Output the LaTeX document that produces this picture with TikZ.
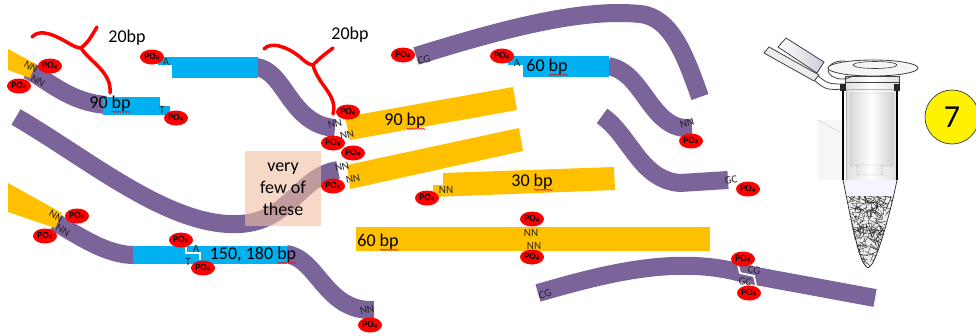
\documentclass[tikz,border=0pt]{standalone}
\usepackage{fontspec}
\setmainfont{Carlito}
\usetikzlibrary{shapes.geometric,decorations.pathmorphing}
\definecolor{strand}{RGB}{122,100,154}
\definecolor{oligo}{RGB}{0,176,240}
\definecolor{insert}{RGB}{255,192,0}
\definecolor{peach}{RGB}{241,190,160}
\newcommand\POfour{PO\textsubscript{4}}
\begin{document}
\begin{tikzpicture}[x=1pt,y=-1pt,
  strandline/.style={draw=strand,line width=18pt},
  po/.style={ellipse,fill=red,inner sep=0pt,minimum width=24pt,minimum height=15pt,
    font=\fontsize{9.5}{9.5}\selectfont\bfseries},
  nn/.style={inner sep=0pt,text=black!85,font=\fontsize{11}{11}\selectfont},
  bptext/.style={inner sep=0pt,font=\fontsize{18}{18}\selectfont},
  brace/.style={draw=red,line width=3.5pt,line cap=round,line join=round},
  spell/.style={draw=red,line width=0.5pt,decorate,
    decoration={snake,amplitude=0.7pt,segment length=3pt}},
  nick/.style={draw=white,line width=1.8pt}]
\useasboundingbox (0,0) rectangle (976,335);

% ---------- long single strands ----------
\draw[strandline] (28,70) .. controls (50,82) and (70,102) .. (106,105);
\draw[strandline] (16,117) .. controls (90,160) and (170,228) .. (240,224)
   .. controls (290,221) and (300,176) .. (338,170);
\draw[strandline] (256,67) .. controls (285,70) and (290,125) .. (335,128);
\draw[strandline] (416,56) .. controls (500,30) and (580,8) .. (640,14)
   .. controls (672,17) and (686,58) .. (700,97);
\draw[strandline] (608,66) .. controls (645,72) and (650,132) .. (692,128);
\draw[strandline] (602,116) .. controls (630,135) and (640,180) .. (680,183) -- (728,180);
\draw[strandline] (286,254) .. controls (318,258) and (325,312) .. (374,310);
\draw[strandline] (55,222) .. controls (85,240) and (110,256) .. (137,255);
\draw[strandline] (538,293) .. controls (610,272) and (680,255) .. (745,274) -- (875,298);
\draw[nick] (738,265) -- (740,273) -- (754,276) -- (756,285);

% ---------- double-stranded pieces ----------
\fill[insert] (8,49) -- (36,64) -- (30,78) -- (8,70) -- cycle;
\fill[insert] (8,183) -- (62,213) -- (55,228) -- (8,212) -- cycle;
\fill[oligo] (103,97) rectangle (160,115);
\fill[oligo] (160,106) rectangle (170,115);
\fill[oligo] (158,57) rectangle (172,65);
\fill[oligo] (172,57) rectangle (258,78);
\fill[oligo] (508,56) rectangle (523,65);
\fill[oligo] (523,56) rectangle (609,77);
\fill[oligo] (133,246) rectangle (287,264);
\draw[nick] (186,246) -- (186,253) -- (200,253) -- (200,260);
\fill[insert] (345,117) -- (513,87) -- (517,110) -- (350,140) -- cycle;
\fill[insert] (347,165) -- (519,128) -- (523,151) -- (350,189) -- cycle;
\fill[insert] (443,173) -- (614,167) -- (615,190) -- (433,197) -- (433,185) -- (443,185) -- cycle;
\fill[insert] (356,227) rectangle (710,251);

% ---------- length labels ----------
\node[bptext] (l90a) at (110,104) {90 bp};
\node[bptext] (l90b) at (405,121) {90 bp};
\node[bptext] (l60a) at (547,67) {60 bp};
\node[bptext] (l30) at (532,182) {30 bp};
\node[bptext] (l60b) at (378,242) {60 bp};
\node[bptext] (l150) at (253,255) {150, 180 bp};
\foreach \n in {l90a,l90b,l60a,l30,l60b,l150}
  \draw[spell] ([xshift=-19pt,yshift=-3pt]\n.base east) -- ([yshift=-3pt]\n.base east);

% ---------- 20 bp spacers ----------
\draw[brace] (32,37) .. controls (40,28) and (55,35) .. (70,44) .. controls (75,47) and (79,48) .. (81,48);
\draw[brace] (81,48) .. controls (88,42) .. (97,27);
\draw[brace] (81,48) .. controls (90,62) and (112,72) .. (110,93);
\node[bptext] (s1) at (127,38) {20bp};
\draw[brace] (264,49) .. controls (270,42) and (285,45) .. (300,57) .. controls (305,62) and (310,65) .. (313,65);
\draw[brace] (313,65) .. controls (320,58) .. (333,48);
\draw[brace] (313,65) .. controls (318,85) and (338,95) .. (333,114);
\node[bptext] (s2) at (350,35) {20bp};

% ---------- note box ----------
\fill[peach,opacity=0.6] (245,151) rectangle (321,226);
\node[bptext,align=center,font=\fontsize{18}{22}\selectfont] (note) at (283,189) {very\\few of\\these};

% ---------- end labels ----------
\node[nn,rotate=-32] (n1) at (31,67) {NN};
\node[nn,rotate=-32] (n2) at (38,81) {NN};
\node[po] (p1) at (50,66) {\POfour};
\node[po] (p2) at (19,86) {\POfour};
\node[nn] (t1) at (162,110) {T};
\node[po] (p3) at (176,118) {\POfour};
\node[po] (p4) at (152,57) {\POfour};
\node[nn] (a1) at (166,62) {A};
\node[nn,rotate=12] (n3) at (335,124) {NN};
\node[nn,rotate=12] (n4) at (347,135) {NN};
\node[po] (p5) at (348,112) {\POfour};
\node[po] (p6) at (333,143) {\POfour};
\node[nn,rotate=12] (n5) at (342,167) {NN};
\node[nn,rotate=12] (n6) at (353,179) {NN};
\node[po] (p7) at (353,153) {\POfour};
\node[po] (p8) at (333,186) {\POfour};
\node[po] (p9) at (403,55) {\POfour};
\node[nn,rotate=12] (c1) at (424,60) {CG};
\node[po] (p10) at (502,56) {\POfour};
\node[nn] (a2) at (517,63) {A};
\node[nn,rotate=15] (n7) at (687,123) {NN};
\node[po] (p11) at (691,141) {\POfour};
\node[nn,rotate=10] (g1) at (731,180) {GC};
\node[po] (p12) at (748,189) {\POfour};
\node[nn] (n8) at (446,190) {NN};
\node[po] (p13) at (427,198) {\POfour};
\node[po] (p14) at (532,219) {\POfour};
\node[nn] (n9) at (531,233) {NN};
\node[nn] (n10) at (534,246) {NN};
\node[po] (p15) at (532,257) {\POfour};
\node[nn,rotate=-30] (n11) at (56,216) {NN};
\node[nn,rotate=-30] (n12) at (63,230) {NN};
\node[po] (p16) at (77,216) {\POfour};
\node[po] (p17) at (45,236) {\POfour};
\node[po] (p18) at (181,240) {\POfour};
\node[nn] (a3) at (196,249) {A};
\node[nn] (t2) at (188,262) {T};
\node[po] (p19) at (203,268) {\POfour};
\node[nn,rotate=12] (n13) at (367,310) {NN};
\node[po] (p20) at (370,325) {\POfour};
\node[nn,rotate=15] (c2) at (545,294) {CG};
\node[po] (p21) at (743,259) {\POfour};
\node[nn,rotate=-10] (c3) at (754,270) {CG};
\node[nn,rotate=-5] (g2) at (745,282) {GC};
\node[po] (p22) at (749,293) {\POfour};

% ---------- reaction tube ----------
\fill[gray!7] (818,120) rectangle (845,180);
\draw[gray!40] (818,120) -- (843,134);
% lid on its strap
\draw[gray!50!black,line width=0.8pt] (814,80) .. controls (826,90) .. (846,89);
\draw[gray!50!black,line width=0.8pt] (817,75) .. controls (828,84) .. (846,84);
\filldraw[draw=gray!50!black,fill=gray!15,line width=0.8pt] (764,53) -- (769,47) -- (819,75) -- (814,81) -- cycle;
\shadedraw[draw=gray!50!black,line width=0.8pt,left color=white,right color=blue!15!gray!35]
  (778,47) -- (786,38) -- (824,62) -- (817,73) -- cycle;
% collar and rim
\shadedraw[draw=gray!50!black,line width=0.6pt,left color=gray!25,right color=gray!25,middle color=white]
  (845,76) rectangle (899,90);
\draw[gray!50!black,line width=0.6pt] (845,82) -- (899,82);
\draw[gray!50!black,line width=0.8pt] (842,70) ellipse [x radius=14, y radius=9];
\filldraw[draw=gray!50!black,fill=gray!8,line width=0.8pt] (873,68) ellipse [x radius=45, y radius=8];
\draw[gray!50!black,line width=0.6pt] (875,65) ellipse [x radius=22, y radius=3.5];
% body
\shadedraw[draw=gray!60,left color=gray!25,right color=gray!25,middle color=white]
  (846,89) rectangle (896,180);
\shadedraw[draw=gray!60,left color=gray!30,right color=gray!35,middle color=white,rounded corners=2pt]
  (850,93) rectangle (893,166);
\shadedraw[draw=gray!60,left color=gray!20,right color=gray!20,middle color=white,rounded corners=2pt]
  (857,165) rectangle (883,175);
% conical tip with the fragments
\fill[blue!4] (843,180) -- (897,180) .. controls (890,215) and (878,255) .. (872,264)
  .. controls (868,269) .. (864,264) .. controls (858,255) and (850,215) .. (843,180) -- cycle;
\begin{scope}
  \clip (843,196) -- (893,196) .. controls (886,225) and (878,255) .. (872,264)
    .. controls (868,269) .. (864,264) .. controls (858,255) and (850,225) .. (847,196) -- cycle;
  \fill[gray!15] (840,196) rectangle (900,270);
  \pgfmathsetseed{11}
  \foreach \k in {1,...,320}{
    \pgfmathsetmacro\sx{842+56*rnd}
    \pgfmathsetmacro\sy{195+72*rnd}
    \pgfmathsetmacro\sa{360*rnd}
    \draw[gray!20!black,line width=0.35pt] (\sx,\sy) -- ++(\sa:9);
  }
\end{scope}
\draw[gray!30!black,line width=0.7pt] (843,180) .. controls (850,215) and (858,255) .. (864,264)
  .. controls (868,269) .. (872,264) .. controls (878,255) and (890,215) .. (897,180);
\draw[line width=1.3pt] (843,86) -- (843,180);
\draw[line width=1.3pt] (897,86) -- (897,180);
\fill[gray!30!black] (840,84) rectangle (846,91);
\fill[gray!30!black] (894,84) rectangle (900,91);

% ---------- step number ----------
\node[circle,fill=yellow,draw=gray!60!black,line width=0.8pt,minimum size=54pt,inner sep=0pt,
  font=\fontsize{32}{32}\selectfont] (step7) at (952,117) {7};
\end{tikzpicture}
\end{document}
